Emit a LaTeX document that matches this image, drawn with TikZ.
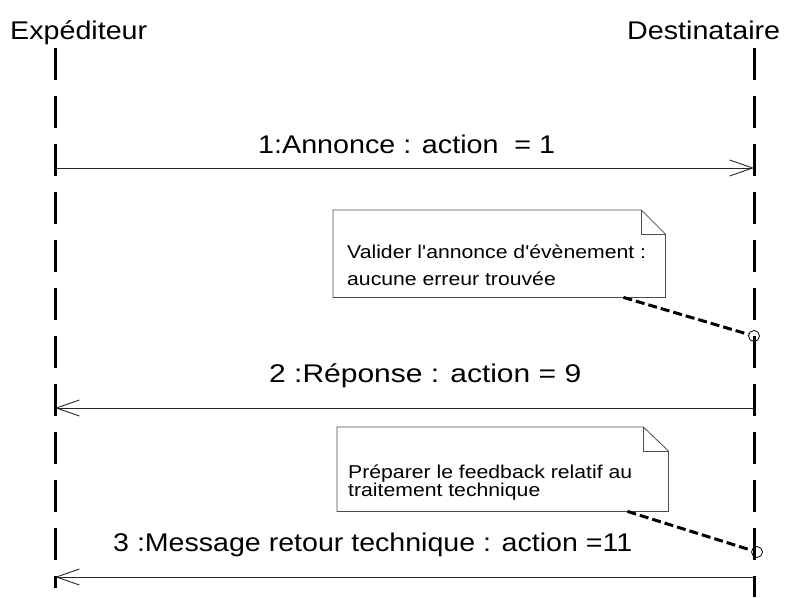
\documentclass[tikz,border=0pt]{standalone}
\usepackage{fontspec}
\setmainfont{Liberation Sans}
\usetikzlibrary{arrows.meta}
\newcommand\fitw[2]{\resizebox{#1pt}{\height}{#2}}
\newcommand\notetxt[1]{\scalebox{1.14}[1]{#1}}
\begin{document}
\begin{tikzpicture}[x=1pt,y=-1pt,
  lifeline/.style={line width=3pt, dash pattern=on 32pt off 16pt},
  msg/.style={line width=0.9pt, draw=black!85, -{Straight Barb[length=23pt,width=16pt,line width=0.9pt]}},
  title/.style={inner sep=0pt, anchor=base west, font=\fontsize{25.6}{30}\selectfont},
  lbl/.style={inner sep=0pt, anchor=base west, font=\fontsize{25.6}{30}\selectfont},
  ntext/.style={inner sep=0pt, anchor=base west, font=\fontsize{18.6}{22}\selectfont},
  notebox/.style={inner sep=0pt, anchor=north west},
  noteline/.style={draw=black!70, line width=0.8pt, fill=white},
  notelink/.style={line width=3pt, dash pattern=on 9pt off 4pt},
  anchorpt/.style={circle, draw, line width=0.8pt, minimum size=11pt, inner sep=0pt}
]
\useasboundingbox (0,0) rectangle (786,597);

% lifeline ends
\coordinate (Ltop) at (55,48);
\coordinate (Lbot) at (55,588);
\coordinate (Rtop) at (754,48);
\coordinate (Rbot) at (754,597);

% titles
\node[title] (exp) at (10,39) {\fitw{137}{Expéditeur}};
\node[title] (dest) at (627,39) {\fitw{153}{Destinataire}};

% lifelines
\draw[lifeline] (Ltop) -- (Lbot);
\draw[lifeline] (Rtop) -- (Rbot);

% message endpoints
\coordinate (m1s) at (55,168);  \coordinate (m1e) at (754,168);
\coordinate (m2s) at (754,408); \coordinate (m2e) at (55,408);
\coordinate (m3s) at (754,577); \coordinate (m3e) at (55,577);

\draw[msg] (m1s) -- (m1e);
\draw[msg] (m2s) -- (m2e);
\draw[msg] (m3s) -- (m3e);

% message labels
\node[lbl] (l1) at (258,153) {\fitw{297}{1:Annonce : action \ = 1}};
\node[lbl] (l2) at (269,382) {\fitw{312}{2 :Réponse : action = 9}};
\node[lbl] (l3) at (113,551) {\fitw{519}{3 :Message retour technique : action =11}};

% note 1
\node[notebox, minimum width=332pt, minimum height=87pt] (n1) at (333,210) {};
\draw[noteline] (n1.north west) -- ([xshift=-24pt]n1.north east) -- ([yshift=-24pt]n1.north east)
   -- (n1.south east) -- (n1.south west) -- cycle;
\draw[noteline, fill=none] ([xshift=-24pt]n1.north east) -- ([xshift=-24pt,yshift=-24pt]n1.north east)
   -- ([yshift=-24pt]n1.north east);
\node[ntext] (n1a) at (347,258) {\notetxt{Valider l\textquotesingle annonce d\textquotesingle évènement :}};
\node[ntext] (n1b) at (347,285) {\notetxt{aucune erreur trouvée}};
\node[anchorpt] (c1) at (754,336) {};
\draw[notelink] ([xshift=-42pt]n1.south east) -- (c1);

% note 2
\node[notebox, minimum width=331pt, minimum height=84pt] (n2) at (337,427) {};
\draw[noteline] (n2.north west) -- ([xshift=-25pt]n2.north east) -- ([yshift=-24pt]n2.north east)
   -- (n2.south east) -- (n2.south west) -- cycle;
\draw[noteline, fill=none] ([xshift=-25pt]n2.north east) -- ([xshift=-25pt,yshift=-24pt]n2.north east)
   -- ([yshift=-24pt]n2.north east);
\node[ntext] (n2a) at (348,478) {\notetxt{Préparer le feedback relatif au}};
\node[ntext] (n2b) at (348,496) {\notetxt{traitement technique}};
\node[anchorpt] (c2) at (757,552) {};
\draw[notelink] ([xshift=-41pt]n2.south east) -- (c2);
\end{tikzpicture}
\end{document}
